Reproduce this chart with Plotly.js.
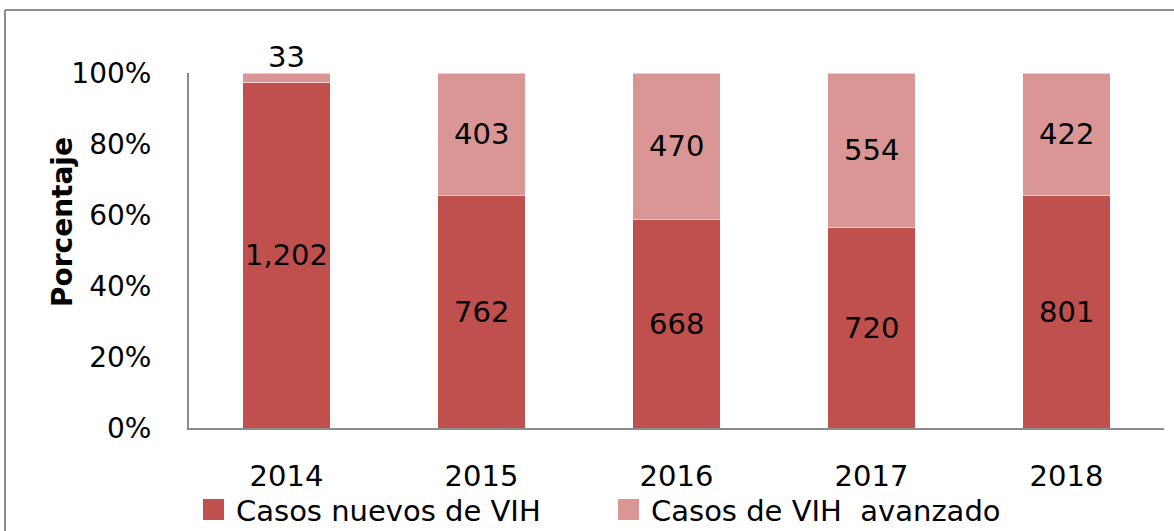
<!DOCTYPE html>
<html><head><meta charset="utf-8">
<script src="https://cdn.plot.ly/plotly-3.0.1.min.js"></script>
<style>html,body{margin:0;padding:0;background:#fff;}#chart{width:1174px;height:531px;}</style>
</head><body><div id="chart"></div>
<script>
const years = ['2014','2015','2016','2017','2018'];
const nuevos = [1202, 762, 668, 720, 801];
const avanzado = [33, 403, 470, 554, 422];
const seriesNames = ['Casos nuevos de VIH', 'Casos de VIH  avanzado'];
const colors = ['#C0504D', '#D99694'];
const yTicks = [0, 20, 40, 60, 80, 100];

const W = 1174, H = 531;
const m = {l: 189, r: 10, t: 73, b: 103, autoexpand: false};
const pw = W - m.l - m.r, ph = H - m.t - m.b;
const FONT = '"DejaVu Sans", sans-serif';
const px = X => (X - m.l) / pw;
const py = Y => (H - m.b - Y) / ph;

const fmt = v => v.toLocaleString('en-US');
const totals = nuevos.map((v, i) => v + avanzado[i]);
const pN = nuevos.map((v, i) => v / totals[i] * 100);
const pA = avanzado.map((v, i) => v / totals[i] * 100);

const traces = [
  {type: 'bar', name: seriesNames[0], x: years, y: nuevos, marker: {color: colors[0], line: {color: 'rgba(255,255,255,0.5)', width: 1}}},
  {type: 'bar', name: seriesNames[1], x: years, y: avanzado, marker: {color: colors[1], line: {color: 'rgba(255,255,255,0.5)', width: 1}}}
];

const lblFont = {family: FONT, size: 29, color: '#000'};
const ann = [];
years.forEach((yr, i) => {
  ann.push({x: i, y: pN[i] / 2, text: fmt(nuevos[i]), showarrow: false, font: lblFont, xref: 'x', yref: 'y'});
  if (pA[i] < 8) {
    ann.push({x: i, y: 100, yanchor: 'bottom', yshift: -3, text: fmt(avanzado[i]), showarrow: false, font: lblFont, xref: 'x', yref: 'y'});
  } else {
    ann.push({x: i, y: pN[i] + pA[i] / 2, text: fmt(avanzado[i]), showarrow: false, font: lblFont, xref: 'x', yref: 'y'});
  }
});
ann.push({xref: 'paper', yref: 'paper', x: px(62), y: py(222), xanchor: 'center', yanchor: 'middle', text: '<b>Porcentaje</b>', textangle: -90, showarrow: false, font: {family: FONT, size: 28, color: '#000'}});

// custom legend (large square swatches)
const legX = [203, 618];
const shapes = [
  {type: 'line', xref: 'paper', yref: 'paper', x0: px(5), x1: px(1180), y0: py(10), y1: py(10), line: {color: '#8c8c8c', width: 2}},
  {type: 'line', xref: 'paper', yref: 'paper', x0: px(5), x1: px(5), y0: py(10), y1: py(540), line: {color: '#8c8c8c', width: 2}}
];
seriesNames.forEach((nm, k) => {
  shapes.push({type: 'rect', xref: 'paper', yref: 'paper', x0: px(legX[k]), x1: px(legX[k] + 21), y0: py(520), y1: py(499), fillcolor: colors[k], line: {width: 0}});
  ann.push({xref: 'paper', yref: 'paper', x: px(legX[k] + 31), y: py(511), xanchor: 'left', yanchor: 'middle', text: nm, showarrow: false, font: {family: FONT, size: 29, color: '#000'}});
});

const layout = {
  width: W, height: H,
  margin: m,
  paper_bgcolor: '#fff', plot_bgcolor: '#fff',
  barmode: 'stack', barnorm: 'percent', bargap: 0.55,
  font: {family: FONT, color: '#000'},
  xaxis: {type: 'category', showline: true, linecolor: '#8c8c8c', linewidth: 2, ticks: 'outside', ticklen: 21, tickcolor: 'rgba(0,0,0,0)', tickfont: {family: FONT, size: 29, color: '#000'}, showgrid: false, zeroline: false, automargin: false},
  yaxis: {range: [0, 100], tickmode: 'array', tickvals: yTicks, ticktext: yTicks.map(v => v + '%'), showline: true, linecolor: '#8c8c8c', linewidth: 2, ticks: 'outside', ticklen: 30, tickcolor: 'rgba(0,0,0,0)', tickfont: {family: FONT, size: 28, color: '#000'}, showgrid: false, zeroline: false, automargin: false},
  showlegend: false,
  annotations: ann,
  shapes: shapes
};

Plotly.newPlot('chart', traces, layout, {displayModeBar: false});
</script></body></html>
